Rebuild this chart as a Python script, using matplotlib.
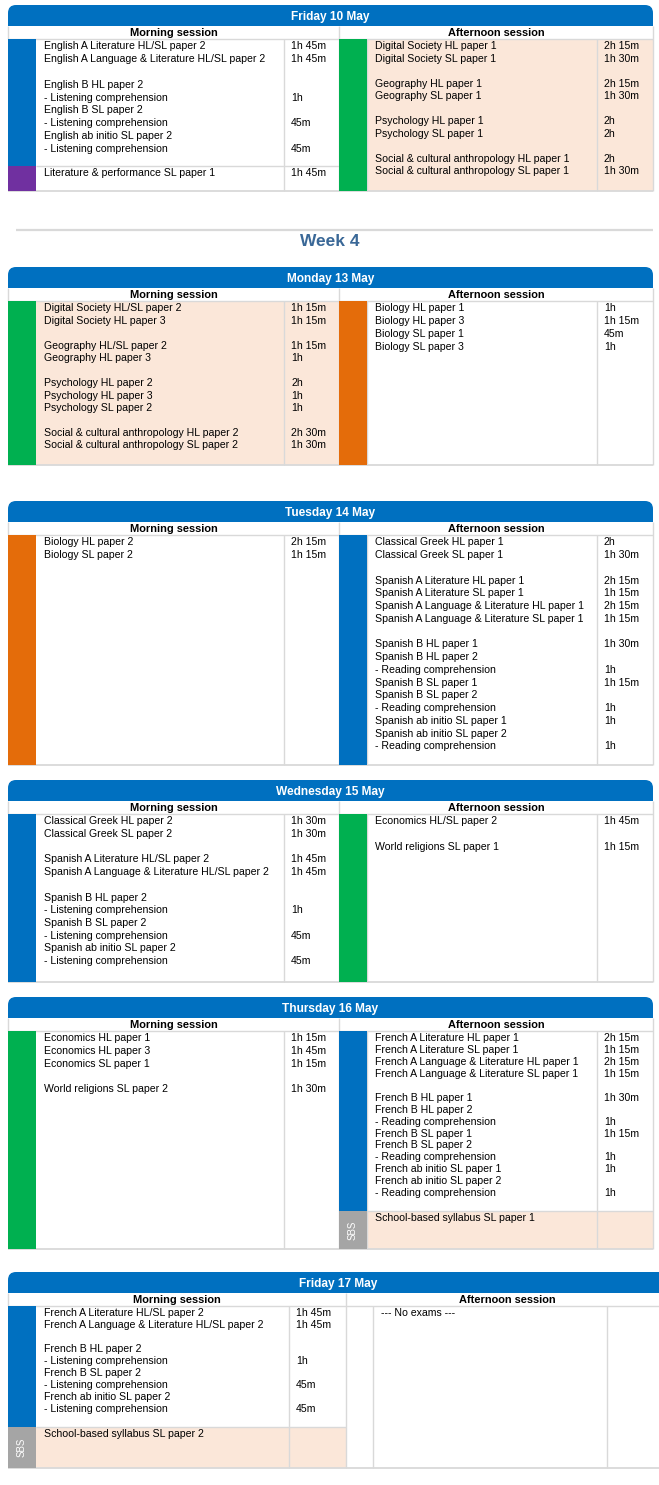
import matplotlib.pyplot as plt
from matplotlib.patches import Rectangle, FancyBboxPatch

plt.rcParams["font.family"] = ["Liberation Sans", "DejaVu Sans"]

# ---------------- data ----------------
day_titles = ["Friday 10 May", "Monday 13 May", "Tuesday 14 May",
              "Wednesday 15 May", "Thursday 16 May", "Friday 17 May"]
week_label = "Week 4"
session_labels = ["Morning session", "Afternoon session"]

fri10_am_lang = ["English A Literature HL/SL paper 2",
                 "English A Language & Literature HL/SL paper 2", "",
                 "English B HL paper 2", "- Listening comprehension",
                 "English B SL paper 2", "- Listening comprehension",
                 "English ab initio SL paper 2", "- Listening comprehension"]
fri10_am_lang_t = ["1h 45m", "1h 45m", "", "", "1h", "", "45m", "", "45m"]
fri10_am_arts = ["Literature & performance SL paper 1"]
fri10_am_arts_t = ["1h 45m"]
fri10_pm_soc = ["Digital Society HL paper 1", "Digital Society SL paper 1", "",
                "Geography HL paper 1", "Geography SL paper 1", "",
                "Psychology HL paper 1", "Psychology SL paper 1", "",
                "Social & cultural anthropology HL paper 1",
                "Social & cultural anthropology SL paper 1"]
fri10_pm_soc_t = ["2h 15m", "1h 30m", "", "2h 15m", "1h 30m", "",
                  "2h", "2h", "", "2h", "1h 30m"]

mon13_am_soc = ["Digital Society HL/SL paper 2", "Digital Society HL paper 3", "",
                "Geography HL/SL paper 2", "Geography HL paper 3", "",
                "Psychology HL paper 2", "Psychology HL paper 3", "Psychology SL paper 2", "",
                "Social & cultural anthropology HL paper 2",
                "Social & cultural anthropology SL paper 2"]
mon13_am_soc_t = ["1h 15m", "1h 15m", "", "1h 15m", "1h", "",
                  "2h", "1h", "1h", "", "2h 30m", "1h 30m"]
mon13_pm_sci = ["Biology HL paper 1", "Biology HL paper 3",
                "Biology SL paper 1", "Biology SL paper 3"]
mon13_pm_sci_t = ["1h", "1h 15m", "45m", "1h"]

tue14_am_sci = ["Biology HL paper 2", "Biology SL paper 2"]
tue14_am_sci_t = ["2h 15m", "1h 15m"]
tue14_pm_lang = ["Classical Greek HL paper 1", "Classical Greek SL paper 1", "",
                 "Spanish A Literature HL paper 1", "Spanish A Literature SL paper 1",
                 "Spanish A Language & Literature HL paper 1",
                 "Spanish A Language & Literature SL paper 1", "",
                 "Spanish B HL paper 1", "Spanish B HL paper 2", "- Reading comprehension",
                 "Spanish B SL paper 1", "Spanish B SL paper 2", "- Reading comprehension",
                 "Spanish ab initio SL paper 1", "Spanish ab initio SL paper 2",
                 "- Reading comprehension"]
tue14_pm_lang_t = ["2h", "1h 30m", "", "2h 15m", "1h 15m", "2h 15m", "1h 15m", "",
                   "1h 30m", "", "1h", "1h 15m", "", "1h", "1h", "", "1h"]

wed15_am_lang = ["Classical Greek HL paper 2", "Classical Greek SL paper 2", "",
                 "Spanish A Literature HL/SL paper 2",
                 "Spanish A Language & Literature HL/SL paper 2", "",
                 "Spanish B HL paper 2", "- Listening comprehension",
                 "Spanish B SL paper 2", "- Listening comprehension",
                 "Spanish ab initio SL paper 2", "- Listening comprehension"]
wed15_am_lang_t = ["1h 30m", "1h 30m", "", "1h 45m", "1h 45m", "",
                   "", "1h", "", "45m", "", "45m"]
wed15_pm_soc = ["Economics HL/SL paper 2", "", "World religions SL paper 1"]
wed15_pm_soc_t = ["1h 45m", "", "1h 15m"]

thu16_am_soc = ["Economics HL paper 1", "Economics HL paper 3", "Economics SL paper 1", "",
                "World religions SL paper 2"]
thu16_am_soc_t = ["1h 15m", "1h 45m", "1h 15m", "", "1h 30m"]
thu16_pm_lang = ["French A Literature HL paper 1", "French A Literature SL paper 1",
                 "French A Language & Literature HL paper 1",
                 "French A Language & Literature SL paper 1", "",
                 "French B HL paper 1", "French B HL paper 2", "- Reading comprehension",
                 "French B SL paper 1", "French B SL paper 2", "- Reading comprehension",
                 "French ab initio SL paper 1", "French ab initio SL paper 2",
                 "- Reading comprehension"]
thu16_pm_lang_t = ["2h 15m", "1h 15m", "2h 15m", "1h 15m", "", "1h 30m", "", "1h",
                   "1h 15m", "", "1h", "1h", "", "1h"]
thu16_pm_sbs = ["School-based syllabus SL paper 1"]
thu16_pm_sbs_t = [""]

fri17_am_lang = ["French A Literature HL/SL paper 2",
                 "French A Language & Literature HL/SL paper 2", "",
                 "French B HL paper 2", "- Listening comprehension",
                 "French B SL paper 2", "- Listening comprehension",
                 "French ab initio SL paper 2", "- Listening comprehension"]
fri17_am_lang_t = ["1h 45m", "1h 45m", "", "", "1h", "", "45m", "", "45m"]
fri17_am_sbs = ["School-based syllabus SL paper 2"]
fri17_am_sbs_t = [""]
fri17_pm_none = ["--- No exams ---"]
fri17_pm_none_t = [""]

# (group, subjects, durations) per session block
sessions = [
    ([("lang", fri10_am_lang, fri10_am_lang_t), ("arts", fri10_am_arts, fri10_am_arts_t)],
     [("soc", fri10_pm_soc, fri10_pm_soc_t)]),
    ([("soc", mon13_am_soc, mon13_am_soc_t)],
     [("sci", mon13_pm_sci, mon13_pm_sci_t)]),
    ([("sci", tue14_am_sci, tue14_am_sci_t)],
     [("lang", tue14_pm_lang, tue14_pm_lang_t)]),
    ([("lang", wed15_am_lang, wed15_am_lang_t)],
     [("soc", wed15_pm_soc, wed15_pm_soc_t)]),
    ([("soc", thu16_am_soc, thu16_am_soc_t)],
     [("lang", thu16_pm_lang, thu16_pm_lang_t), ("sbs", thu16_pm_sbs, thu16_pm_sbs_t)]),
    ([("lang", fri17_am_lang, fri17_am_lang_t), ("sbs", fri17_am_sbs, fri17_am_sbs_t)],
     [(None, fri17_pm_none, fri17_pm_none_t)]),
]

# ---------------- styles / layout ----------------
group_colors = {"lang": "#0070c0", "soc": "#00b050", "sci": "#e46c0a",
                "arts": "#7030a0", "sbs": "#a5a5a5"}
BLUE = "#0070c0"
PEACH = "#fbe7d9"
GRID = "#d9d9d9"
FS = 7.6

cols_std = (8, 36, 284, 339, 367, 597, 653)
cols_wide = (8, 36, 289, 346, 373, 607, 668)

# top, bottom, am splits, pm splits, am pitch, pm pitch, am shade, pm shade, cols
layout = [
    (5, 191, [166], [], 12.8, 12.47, [False, False], [True], cols_std),
    (267, 465, [], [], 12.45, 12.7, [True], [False], cols_std),
    (501, 765, [], [], 12.75, 12.75, [False], [False], cols_std),
    (780, 982, [], [], 12.7, 12.6, [False], [False], cols_std),
    (997, 1249, [], [1211], 12.75, 11.9, [False], [False, True], cols_std),
    (1272, 1468, [1427], [], 11.9, 11.9, [False, True], [False], cols_wide),
]

fig = plt.figure(figsize=(6.59, 14.85), dpi=100)
ax = fig.add_axes([0, 0, 1, 1])
ax.set_xlim(0, 659)
ax.set_ylim(1485, 0)
ax.axis("off")


def hline(y, x0, x1, lw=1.0):
    ax.plot([x0, x1], [y, y], color=GRID, lw=lw, solid_capstyle="butt", zorder=3)


def vline(x, y0, y1, lw=1.0):
    ax.plot([x, x], [y0, y1], color=GRID, lw=lw, solid_capstyle="butt", zorder=3)


def draw_side(blocks, splits, pitch, shades, y0, y1, xb0, xb1, xd, xr):
    edges = [y0] + splits + [y1]
    for k, (grp, subj, times) in enumerate(blocks):
        b0, b1 = edges[k], edges[k + 1]
        if shades[k]:
            ax.add_patch(Rectangle((xb1, b0), xr - xb1, b1 - b0, color=PEACH, lw=0, zorder=1))
        if grp is not None:
            ax.add_patch(Rectangle((xb0, b0), xb1 - xb0, b1 - b0,
                                   color=group_colors[grp], lw=0, zorder=4))
        if grp == "sbs":
            ax.text((xb0 + xb1) / 2, (b0 + b1) / 2, "SBS", rotation=90, color="white",
                    fontsize=7, ha="center", va="center", zorder=5)
        if k > 0:
            hline(b0, xb1, xr)
        for i, (s, t) in enumerate(zip(subj, times)):
            y = b0 + 7.4 + i * pitch
            if s:
                ax.text(xb1 + 8, y, s, fontsize=FS, ha="left", va="center", zorder=5)
            if t:
                ax.text(xd + 7, y, t, fontsize=FS, ha="left", va="center", zorder=5)


for title, (am, pm), lay in zip(day_titles, sessions, layout):
    top, bottom, am_sp, pm_sp, am_p, pm_p, am_sh, pm_sh, cols = lay
    x0, xb, xd1, xm, xb2, xd2, xr = cols
    # header with rounded top corners
    ax.add_patch(FancyBboxPatch((x0, top), xr - x0, 21,
                                boxstyle="round,pad=0,rounding_size=8",
                                fc=BLUE, ec="none", zorder=2))
    ax.add_patch(Rectangle((x0, top + 10), xr - x0, 11, fc=BLUE, ec="none", zorder=2))
    ax.text((x0 + xr) / 2, top + 12, title, color="white", fontsize=8.6,
            fontweight="bold", ha="center", va="center", zorder=5)
    # session row
    srow0, srow1 = top + 21, top + 34
    ax.text((x0 + xm) / 2, (srow0 + srow1) / 2 + 0.8, session_labels[0], fontsize=7.9,
            fontweight="bold", ha="center", va="center", zorder=5)
    ax.text((xm + xr) / 2, (srow0 + srow1) / 2 + 0.8, session_labels[1], fontsize=7.9,
            fontweight="bold", ha="center", va="center", zorder=5)
    vline(x0, srow0, srow1)
    vline(xm, srow0, bottom)
    vline(xr, srow0, bottom)
    hline(srow1, x0, xr)
    # body
    draw_side(am, am_sp, am_p, am_sh, srow1, bottom, x0, xb, xd1, xm)
    draw_side(pm, pm_sp, pm_p, pm_sh, srow1, bottom, xm, xb2, xd2, xr)
    vline(xd1, srow1, bottom)
    vline(xd2, srow1, bottom)
    vline(xb2, srow1, bottom)
    hline(bottom, x0, xr, lw=1.3)

# week separator
ax.plot([16, 653], [230, 230], color=GRID, lw=1.6, solid_capstyle="butt")
ax.text(330, 242, week_label, color="#3a6897", fontsize=12.5, fontweight="bold",
        ha="center", va="center")

fig.savefig("out.png", dpi=100)
